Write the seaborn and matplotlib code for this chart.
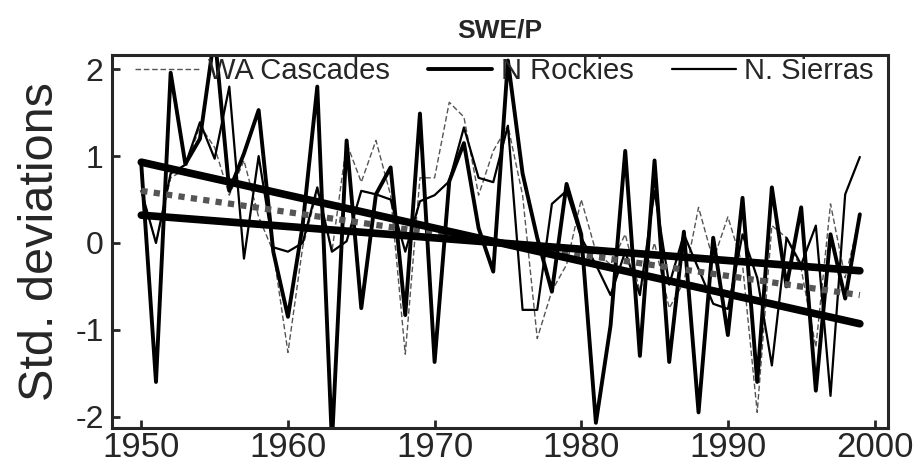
import numpy as np
import pandas as pd
import matplotlib
matplotlib.use("Agg")
import matplotlib.pyplot as plt
import seaborn as sns

years = list(range(1950, 2000))

wa_cascades = [0.60, 0.00, 0.75, 0.85, 1.35, 1.10, 0.55, 0.95, 0.30, -0.10,
               -1.26, -0.05, 0.60, -0.10, 1.15, 0.70, 1.18, 0.55, -1.28, 0.75,
               0.75, 1.62, 1.45, 0.55, 1.06, 1.35, 0.55, -1.10, -0.55, -0.25,
               0.50, -0.10, -0.25, 0.10, -0.55, 0.00, -0.75, -0.45, 0.41, -0.20,
               0.30, -0.25, -1.95, 0.20, 0.06, -0.30, -1.20, 0.45, -0.40, 0.30]

n_rockies = [0.90, -1.60, 1.96, 0.91, 1.20, 2.40, 0.60, 1.03, 1.53, -0.10,
             -0.85, 0.20, 1.80, -2.30, 1.18, -0.75, 0.56, 0.87, -0.83, 1.49,
             -1.37, 0.71, 1.15, 0.17, -0.33, 2.10, 0.80, 0.06, -0.56, 0.68,
             0.10, -2.07, -0.95, 1.06, -1.30, 0.95, -1.37, 0.13, -1.95, 0.06,
             -1.06, 0.52, -1.60, 0.64, -0.50, 0.41, -1.70, 0.10, -0.64, 0.33]

n_sierras = [0.60, 0.00, 0.80, 0.90, 1.39, 0.97, 1.80, -0.18, 1.00, -0.05,
             -0.10, 0.00, 0.64, -0.10, 0.02, 0.60, 0.56, 0.50, -0.10, 0.48,
             0.55, 0.71, 1.33, 0.75, 0.70, 1.35, -0.77, -0.77, 0.45, 0.60,
             0.06, -0.25, -0.60, -0.10, -0.60, 0.60, -0.48, 0.10, -0.30, -0.70,
             -0.76, 0.10, -0.40, -1.41, 0.06, -0.25, 0.20, -1.76, 0.56, 0.99]

series_names = ["WA Cascades", "N Rockies", "N. Sierras"]
trend_start = [0.60, 0.93, 0.32]
trend_end = [-0.60, -0.93, -0.32]
trend_years = [1950, 1999]

title = "SWE/P"
ylabel = "Std. deviations"
xticks = [1950, 1960, 1970, 1980, 1990, 2000]
yticks = [-2, -1, 0, 1, 2]

sns.set_style("ticks")
plt.rcParams['font.family'] = ['Liberation Sans', 'DejaVu Sans']
plt.rcParams['axes.unicode_minus'] = False

df = pd.DataFrame({
    "year": years * 3,
    "value": wa_cascades + n_rockies + n_sierras,
    "series": [series_names[0]] * len(years) + [series_names[1]] * len(years) + [series_names[2]] * len(years),
})

fig = plt.figure(figsize=(9.18, 4.67), dpi=100)
ax = fig.add_axes([0.122, 0.0835, 0.845, 0.798])

styles = {
    "WA Cascades": dict(color="#555555", lw=1.0, ls=(0, (4, 2))),
    "N Rockies": dict(color="black", lw=2.8, ls="-"),
    "N. Sierras": dict(color="black", lw=1.6, ls="-"),
}
trend_styles = {
    "WA Cascades": dict(color="#555555", lw=4.5, ls=(0, (1, 1))),
    "N Rockies": dict(color="black", lw=5.5, ls="-"),
    "N. Sierras": dict(color="black", lw=5.5, ls="-"),
}

for name in series_names:
    sub = df[df["series"] == name]
    st = styles[name]
    sns.lineplot(data=sub, x="year", y="value", ax=ax, color=st["color"],
                 linewidth=st["lw"], linestyle=st["ls"], label=name)

for i, name in enumerate(series_names):
    tdf = pd.DataFrame({"year": trend_years, "value": [trend_start[i], trend_end[i]]})
    st = trend_styles[name]
    sns.lineplot(data=tdf, x="year", y="value", ax=ax, color=st["color"],
                 linewidth=st["lw"], linestyle=st["ls"], legend=False,
                 solid_capstyle="round")

ax.set_xlim(1948.0, 2000.9)
ax.set_ylim(-2.13, 2.16)
ax.set_xticks(xticks)
ax.set_yticks(yticks)
ax.tick_params(direction="in", length=6, width=2)
ax.tick_params(axis="x", labelsize=25, pad=2)
ax.tick_params(axis="y", labelsize=23, pad=6)
for s in ax.spines.values():
    s.set_linewidth(2.2)
    s.set_visible(True)
ax.set_xlabel("")
ax.set_ylabel(ylabel, fontsize=35, labelpad=9)
ax.set_title(title, fontsize=19, fontweight="bold", pad=13)

leg = ax.legend(loc="upper left", ncol=3, frameon=False, fontsize=21,
                handlelength=2.2, handletextpad=0.3, columnspacing=1.3,
                borderpad=0.0, borderaxespad=0.0,
                bbox_to_anchor=(0.03, 0.995))

fig.savefig("out.png", dpi=100)
